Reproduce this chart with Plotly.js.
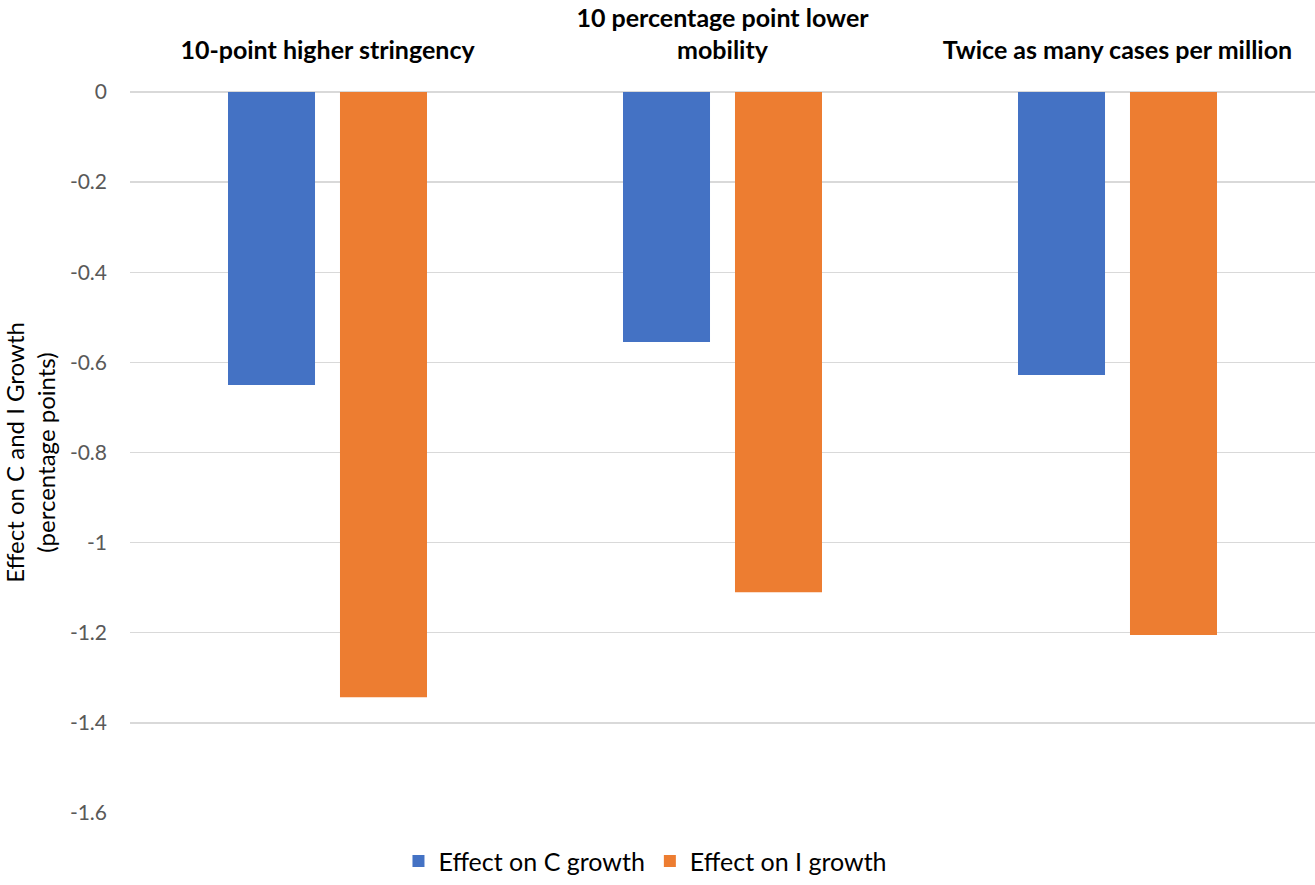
<!DOCTYPE html>
<html>
<head>
<meta charset="utf-8">
<script src="https://cdn.plot.ly/plotly-3.0.1.min.js"></script>
<style>html,body{margin:0;padding:0;background:#fff;}#chart{width:1315px;height:885px;}</style>
</head>
<body>
<div id="chart"></div>
<script>
const categories = ["10-point higher stringency", "10 percentage point lower<br>mobility", "Twice as many cases per million"];
const seriesNames = ["Effect on C growth", "Effect on I growth"];
const cGrowth = [-0.65, -0.555, -0.628];
const iGrowth = [-1.343, -1.11, -1.205];
const yTickVals = [0, -0.2, -0.4, -0.6, -0.8, -1, -1.2, -1.4, -1.6];
const yTickText = ["0", "-0.2", "-0.4", "-0.6", "-0.8", "-1", "-1.2", "-1.4", "-1.6"];

const font = "Lato, 'Open Sans', sans-serif";
const traces = [
  {type: "bar", name: seriesNames[0], x: categories, y: cGrowth, marker: {color: "#4472C4"}, hoverinfo: "y"},
  {type: "bar", name: seriesNames[1], x: categories, y: iGrowth, marker: {color: "#ED7D31"}, hoverinfo: "y"}
];
const layout = {
  width: 1315, height: 885,
  margin: {l: 130, r: 0, t: 92, b: 72, autoexpand: false},
  paper_bgcolor: "#fff", plot_bgcolor: "#fff",
  font: {family: font, color: "#000"},
  barmode: "group",
  bargap: 0.433,
  bargroupgap: 0.223,
  showlegend: true,
  legend: {orientation: "h", x: 0.435, xref: "paper", xanchor: "center", y: -0.035, yanchor: "top",
           font: {size: 25, color: "#000", family: font}, itemwidth: 30, traceorder: "normal"},
  xaxis: {
    side: "top", type: "category", showgrid: false, showline: false, zeroline: false, ticks: "",
    tickangle: 0, automargin: false,
    tickfont: {size: 25, color: "#000", family: font, weight: "bold"},
    ticklabelstandoff: 27
  },
  yaxis: {
    range: [-1.6, 0], tickvals: yTickVals, ticktext: yTickText, automargin: false,
    showgrid: true, gridcolor: "#d9d9d9", gridwidth: 1.3,
    zeroline: true, zerolinecolor: "#d9d9d9", zerolinewidth: 1.3,
    showline: false, ticks: "",
    tickfont: {size: 21, color: "#595959", family: font},
    ticklabelstandoff: 22,
    title: {text: "Effect on C and I Growth<br>(percentage points)", font: {size: 24, color: "#000", family: font}, standoff: 16}
  }
};
Plotly.newPlot("chart", traces, layout, {displayModeBar: false, staticPlot: true});
</script>
</body>
</html>
